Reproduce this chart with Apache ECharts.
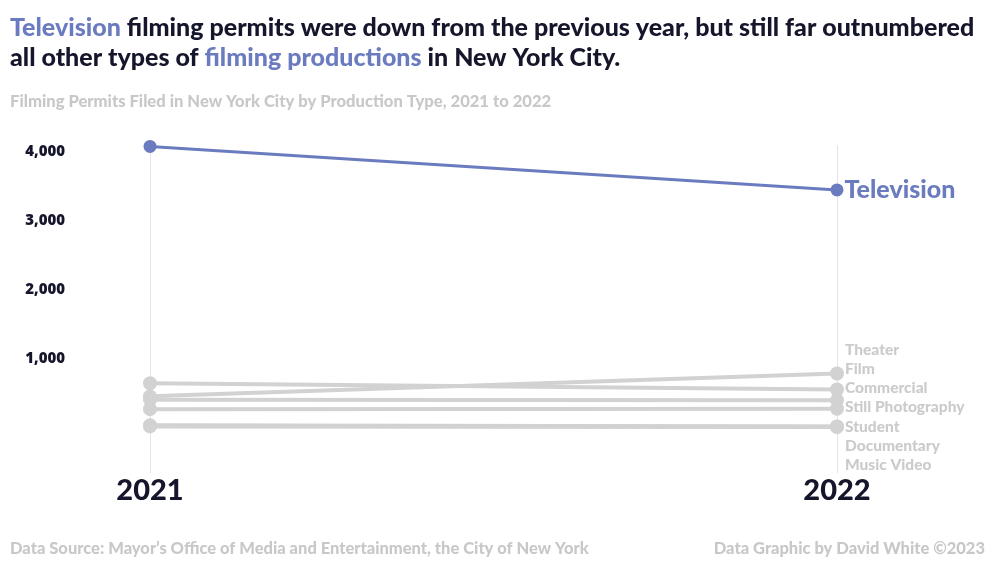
<!DOCTYPE html>
<html>
<head>
<meta charset="utf-8">
<script src="https://cdn.jsdelivr.net/npm/echarts@6/dist/echarts.min.js"></script>
<style>
html,body{margin:0;padding:0;background:#fff;}
#c{width:1000px;height:563px;}
</style>
</head>
<body>
<div id="c"></div>
<script>
const years = ['2021', '2022'];
const yTicks = [1000, 2000, 3000, 4000];
const tvName = 'Television';
const tvValues = [4080, 3450];
const grayNames = ['Theater', 'Film', 'Commercial', 'Still Photography', 'Student', 'Documentary', 'Music Video'];
const gray2021 = [460, 650, 411, 275, 40, 35, 25];
const gray2022 = [790, 560, 405, 280, 25, 20, 15];

const BLUE = '#6b7bbf';
const GRAY = '#d2d2d2';
const DARK = '#15152b';
const FONT = 'Lato';

const chart = echarts.init(document.getElementById('c'), null, {renderer: 'canvas'});

function grayLabelLayout(params) {
  const k = params.seriesIndex - 1;
  if (k < 0) return {};
  let sum = 0;
  for (let i = 0; i < gray2022.length; i++) {
    sum += chart.convertToPixel({gridIndex: 0}, [1, gray2022[i]])[1];
  }
  const mean = sum / gray2022.length;
  const step = 19.2;
  return {
    x: params.rect.x + params.rect.width + 1,
    y: mean + (k - (gray2022.length - 1) / 2) * step,
    align: 'left',
    verticalAlign: 'middle'
  };
}

const series = [];
series.push({
  name: tvName,
  type: 'line',
  z: 10,
  data: [tvValues[0], {value: tvValues[1], label: {show: true}}],
  symbol: 'circle',
  symbolSize: 13,
  lineStyle: {color: BLUE, width: 3},
  itemStyle: {color: BLUE},
  label: {
    show: false, position: 'right', distance: 1, formatter: '{a}',
    color: BLUE, fontFamily: FONT, fontWeight: 900, fontSize: 25
  },
  emphasis: {disabled: true},
  animation: false
});
grayNames.forEach(function (n, i) {
  series.push({
    name: n,
    type: 'line',
    z: 5,
    data: [gray2021[i], {value: gray2022[i], label: {show: true}}],
    symbol: 'circle',
    symbolSize: 14,
    lineStyle: {color: GRAY, width: 4},
    itemStyle: {color: GRAY},
    label: {
      show: false, position: 'right', distance: 1, formatter: '{a}',
      color: '#cbcbcb', fontFamily: FONT, fontWeight: 900, fontSize: 15.5
    },
    labelLayout: grayLabelLayout,
    emphasis: {disabled: true},
    animation: false
  });
});

const option = {
  backgroundColor: '#fff',
  animation: false,
  title: [
    {
      left: 10, top: 13, padding: 0,
      text: '{b|Television} filming permits were down from the previous year, but still far outnumbered\nall other types of {b|filming productions} in New York City.',
      textStyle: {
        fontFamily: FONT, fontWeight: 900, fontSize: 25, color: DARK, lineHeight: 30,
        rich: {b: {fontFamily: FONT, fontWeight: 900, fontSize: 25, color: BLUE, lineHeight: 30}}
      }
    },
    {
      left: 10, top: 93, padding: 0,
      text: 'Filming Permits Filed in New York City by Production Type, 2021 to 2022',
      textStyle: {fontFamily: FONT, fontWeight: 900, fontSize: 16.6, color: '#c8c8c8'}
    },
    {
      left: 10, top: 540, padding: 0,
      text: 'Data Source: Mayor\u2019s Office of Media and Entertainment, the City of New York',
      textStyle: {fontFamily: FONT, fontWeight: 900, fontSize: 16.5, color: '#c8c8c8'}
    },
    {
      right: 15, top: 540, padding: 0,
      text: 'Data Graphic by David White \u00a92023',
      textStyle: {fontFamily: FONT, fontWeight: 900, fontSize: 16.5, color: '#c8c8c8'}
    }
  ],
  grid: {left: 150, right: 163, top: 145, bottom: 90, containLabel: false},
  xAxis: {
    type: 'category',
    data: years,
    boundaryGap: false,
    axisLine: {show: false},
    axisTick: {show: false},
    splitLine: {show: true, lineStyle: {color: '#e4e4e4', width: 1}},
    axisLabel: {
      color: DARK, fontFamily: FONT, fontWeight: 900, fontSize: 29, margin: 3
    }
  },
  yAxis: {
    type: 'value',
    min: -650,
    max: 4100,
    axisLine: {show: false},
    axisTick: {show: false},
    splitLine: {show: false},
    axisLabel: {
      customValues: yTicks,
      margin: 85,
      color: DARK, fontFamily: 'Open Sans', fontWeight: 800, fontSize: 15,
      formatter: function (v) { return v.toLocaleString('en-US'); }
    }
  },
  series: series
};
chart.setOption(option);
</script>
</body>
</html>
